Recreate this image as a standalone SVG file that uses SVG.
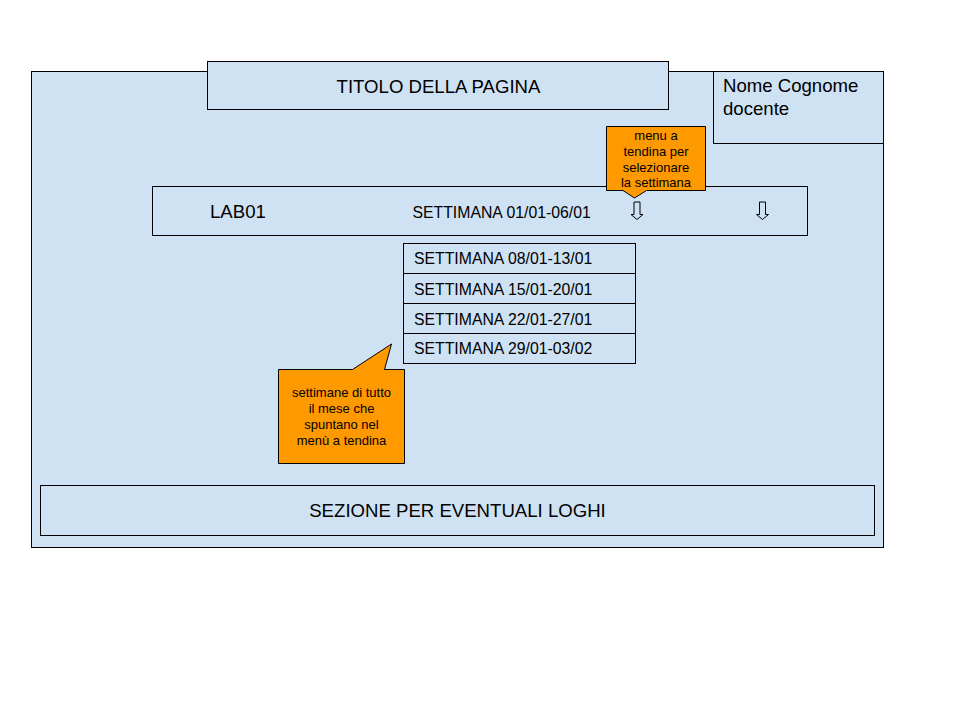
<svg xmlns="http://www.w3.org/2000/svg" width="960" height="720" viewBox="0 0 960 720">
<style>
.box{fill:#cfe2f3;stroke:#000;stroke-width:1}
.call{fill:#ff9900;stroke:#000;stroke-width:1}
.t{font-family:"Liberation Sans",Arial,sans-serif;fill:#000}
.big{font-size:18.6px}
.mid{font-size:15.8px}
.sm{font-size:13px}
</style>
<rect x="0" y="0" width="960" height="720" fill="#fff"/>
<g id="page">
<rect class="box" x="31.5" y="71.5" width="852" height="476"/>
</g>
<g id="title">
<rect class="box" x="207.5" y="61.5" width="461" height="48"/>
<text class="t big" x="438.5" y="92.5" text-anchor="middle">TITOLO DELLA PAGINA</text>
</g>
<g id="docente">
<rect class="box" x="713.5" y="71.5" width="170" height="72"/>
<text class="t big" x="723" y="92">Nome Cognome</text>
<text class="t big" x="723" y="114.5">docente</text>
</g>
<g id="row">
<rect class="box" x="152.5" y="186.5" width="655" height="49"/>
<text class="t big" x="210" y="218">LAB01</text>
<text class="t mid" x="412.5" y="218">SETTIMANA 01/01-06/01</text>
</g>
<g id="arrow1">
<path class="box" d="M634,202 H640 V214.5 H643 L637,219.5 L631,214.5 H634 Z"/>
</g>
<g id="arrow2">
<path class="box" d="M759.5,202 H765.5 V214.5 H768.5 L762.5,219.5 L756.5,214.5 H759.5 Z"/>
</g>
<g id="dropdown">
<rect class="box" x="403.5" y="243.5" width="232" height="30"/>
<rect class="box" x="403.5" y="273.5" width="232" height="30"/>
<rect class="box" x="403.5" y="303.5" width="232" height="30"/>
<rect class="box" x="403.5" y="333.5" width="232" height="30"/>
<text class="t mid" x="414" y="264">SETTIMANA 08/01-13/01</text>
<text class="t mid" x="414" y="294.5">SETTIMANA 15/01-20/01</text>
<text class="t mid" x="414" y="324.5">SETTIMANA 22/01-27/01</text>
<text class="t mid" x="414" y="354">SETTIMANA 29/01-03/02</text>
</g>
<g id="footer">
<rect class="box" x="40.5" y="485.5" width="834" height="50"/>
<text class="t big" x="457.5" y="517" text-anchor="middle">SEZIONE PER EVENTUALI LOGHI</text>
</g>
<g id="callout1">
<path class="call" d="M606.5,126.5 H705.5 V190.5 H646.5 L634.5,198 L623,190.5 H606.5 Z"/>
<text class="t sm" text-anchor="middle" x="656" y="139.5">menu a</text>
<text class="t sm" text-anchor="middle" x="656" y="155.5">tendina per</text>
<text class="t sm" text-anchor="middle" x="656" y="171.5">selezionare</text>
<text class="t sm" text-anchor="middle" x="656" y="187">la settimana</text>
</g>
<g id="callout2">
<path class="call" d="M278.5,369.5 H352.5 L391.5,344 L384.5,369.5 H404.5 V463.5 H278.5 Z"/>
<text class="t sm" text-anchor="middle" x="341.5" y="397">settimane di tutto</text>
<text class="t sm" text-anchor="middle" x="341.5" y="413">il mese che</text>
<text class="t sm" text-anchor="middle" x="341.5" y="429">spuntano nel</text>
<text class="t sm" text-anchor="middle" x="341.5" y="445">menù a tendina</text>
</g>
<g id="connectors"></g>
</svg>
